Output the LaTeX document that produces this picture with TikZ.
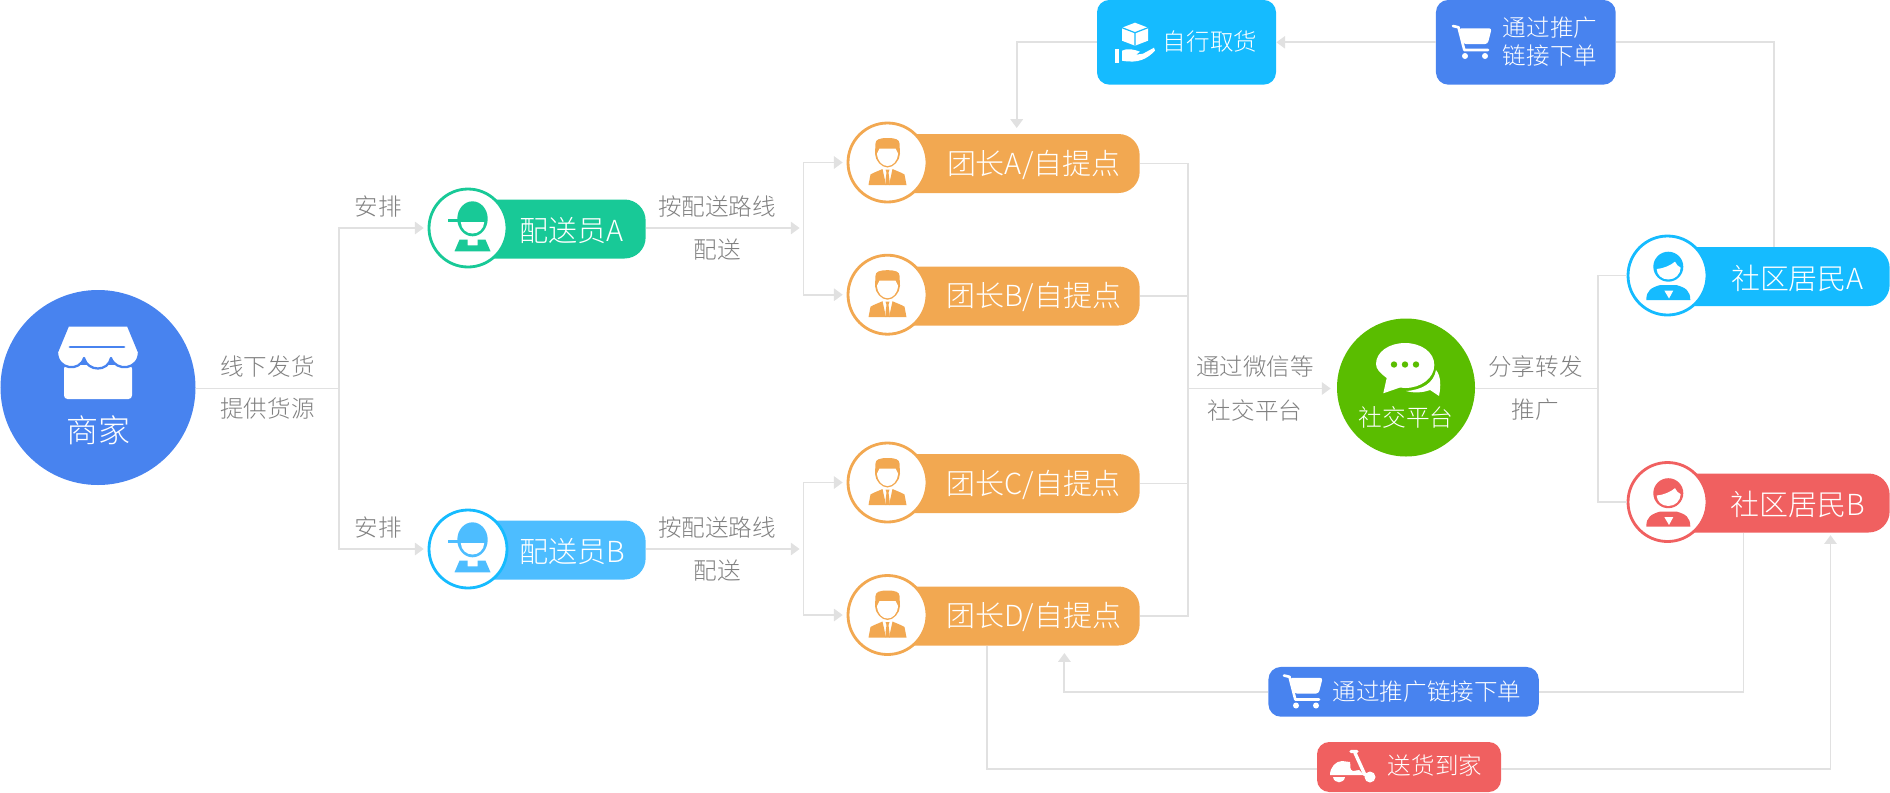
\documentclass[tikz,border=0pt]{standalone}
\usepackage{fontspec}
\setmainfont{Noto Sans CJK SC Light}
\usetikzlibrary{arrows.meta}
\def\pxu{0.02cm}
\definecolor{colshop}{HTML}{4883EF}
\definecolor{colgreen}{HTML}{18C997}
\definecolor{colsky}{HTML}{4DBDFF}
\definecolor{colcyan}{HTML}{15BBFF}
\definecolor{colorange}{HTML}{F2A851}
\definecolor{colred}{HTML}{F06060}
\definecolor{colchat}{HTML}{5ABD00}
\definecolor{colline}{HTML}{E1E1E1}
\definecolor{coltext}{HTML}{808080}
\tikzset{
    link/.style={draw=colline, line width=1.1pt},
    arrowed/.style={link, -{Triangle[length=5pt,width=7pt]}, shorten >=2.2pt},
    note/.style={text=coltext, inner sep=0pt, font=\fontsize{13.4}{13.4}\selectfont},
    pilltext/.style={text=white, inner sep=0pt, font=\fontsize{16.5}{16.5}\selectfont},
    boxtext/.style={text=white, inner sep=0pt, align=center, font=\fontsize{13.4}{16}\selectfont},
    pill/.style={fill=#1, inner sep=0pt, rounded corners=12pt, minimum height=59*\pxu, anchor=east},
    box/.style={fill=#1, inner sep=0pt, rounded corners=7pt},
    head/.style={circle, fill=white, draw=#1, line width=1.6pt, inner sep=0pt, minimum size=79*\pxu},
    % worker with a cap
    pics/worker/.style={code={
        \fill[#1] (0,-9.2) ellipse (15.2 and 17.5);
        \fill[#1] (-24.5,-9.3) rectangle (-10,-6);
        \fill[white] (-11.7,-6) .. controls (-11.5,1) and (-6,5.5) .. (0,5.5) .. controls (6,5.5) and (11.5,1) .. (11.7,-6) -- cycle;
        \fill[#1] (-13,11.7) -- (-5,11.7) -- (-5,17.3) -- (5,17.3) -- (5,11.7) -- (13,11.7) -- (18,23.3) -- (-18,23.3) -- cycle;
    }},
    % leader in a suit
    pics/manager/.style={code={
        \fill[#1] (-12,-19) .. controls (-12,-23) and (-8,-24.5) .. (0,-24.5) .. controls (8,-24.5) and (12,-23) .. (12,-19) -- (12.5,-9) .. controls (12.5,-2) and (6,5) .. (0,5) .. controls (-6,5) and (-12.5,-2) .. (-12.5,-9) -- cycle;
        \fill[white] (-10.5,-9) -- (-8,-14) -- (8,-14) -- (10.5,-9) .. controls (10,-1) and (5,3.5) .. (0,3.5) .. controls (-5,3.5) and (-10,-1) .. (-10.5,-9) -- cycle;
        \fill[#1] (-19,22.5) -- (-17,12) .. controls (-14,10) and (-8,8) .. (-5,6.5) -- (-1.5,22.5) -- cycle;
        \fill[#1] (19,22.5) -- (17,12) .. controls (14,10) and (8,8) .. (5,6.5) -- (1.5,22.5) -- cycle;
        \fill[#1] (-2,7) -- (2,7) -- (1,10) -- (2,18) -- (2,22.5) -- (-2,22.5) -- (-2,18) -- (-1,10) -- cycle;
    }},
    % resident
    pics/resident/.style={code={
        \fill[#1] (0,-8.8) ellipse (15 and 15);
        \fill[white] (-11.6,-6.5) .. controls (-5,-7) and (2,-10) .. (6.7,-13.8) .. controls (8,-11) and (10,-9) .. (12.4,-7.8) .. controls (12,-1) and (7,4) .. (0,4) .. controls (-7,4) and (-11.5,-1) .. (-11.6,-6.5) -- cycle;
        \fill[#1] (-22,24.5) .. controls (-22,15) and (-17,12) .. (-8,9.5) -- (8,9.5) .. controls (17,12) and (22,15) .. (22,24.5) -- cycle;
        \fill[white] (-4,15) -- (5,15) -- (0.7,23) -- cycle;
    }},
    % shopping cart
    pics/cart/.style={code={
        \draw[white, line width=1.5pt, line cap=round, line join=round] (-19,-16) -- (-13.5,-14.7) -- (-7.7,8) -- (16,8);
        \fill[white, rounded corners=1.5pt] (-13,-13.7) -- (19.7,-13.7) -- (15.7,2) -- (-8.7,2) -- cycle;
        \fill[white] (-7,14) circle (3) (13,14) circle (3);
    }},
    % hand holding a parcel
    pics/parcel/.style={code={
        \fill[white] (0,-20) -- (13,-15) -- (13,-2) -- (0,3) -- (-13,-2) -- (-13,-15) -- cycle;
        \draw[colcyan, line width=.7pt] (-13,-15) -- (0,-10) -- (13,-15) (0,-10) -- (0,3);
        \fill[white] (-20,6) rectangle (-16,20);
        \fill[white] (-13,8) .. controls (-8,5) and (0,7) .. (5,9) -- (1,12) -- (8,11) -- (19,5) -- (20,8) .. controls (12,16) and (4,21) .. (-13,18) -- cycle;
    }},
    % scooter
    pics/scooter/.style={code={
        \fill[white] (-22,8) .. controls (-22,0) and (-16,-6) .. (-10,-6) -- (-2,-5) .. controls (-1,-1) and (-3,3) .. (1,4) -- (7,3) -- (12,8) -- cycle;
        \fill[white] (-19,10) .. controls (-18,17) and (-8,17) .. (-7,10) -- cycle;
        \draw[white, line width=1.9pt, line cap=round, line join=round] (-1,-15.5) -- (5,-15.5) (3,-14) -- (13,8);
        \fill[white] (18,10) circle (5.5);
    }},
}

\begin{document}
\begin{tikzpicture}[x=0.02cm, y=-0.02cm]
    \useasboundingbox (0,0) rectangle (1890,792);

    % merchant
    \node[circle, fill=colshop, inner sep=0pt, minimum size=195*\pxu] (shop) at (98,387.5) {};
    \fill[white, rounded corners=2pt] (64,365) rectangle (132,399);
    \draw[colshop, fill=white, line width=1.3pt, line join=round] (68,325.5) -- (128,325.5) -- (139,352) .. controls (139,370) and (116,372) .. (111,358) .. controls (108,372) and (88,372) .. (84,358) .. controls (80,372) and (57,370) .. (57,352) -- cycle;
    \draw[colshop, line width=1.6pt, line cap=round] (70,347) -- (124,347);
    \node[text=white, inner sep=0pt, font=\fontsize{18.2}{18.2}\selectfont] (shopT) at (98,430) {商家};
    \node[note] (noteSa) at (267.5,367) {线下发货};
    \node[note] (noteSb) at (267.5,409) {提供货源};

    % riders
    \foreach \name/\ypos/\colr/\colb in {A/228/colgreen/colgreen, B/549/colcyan/colsky} {
        \node[pill=\colb, minimum width=178*\pxu] (rider\name) at (646,\ypos+1) {};
        \node[head=\colr, minimum size=78*\pxu] (riderc\name) at (468,\ypos) {};
        \pic at (472.5,\ypos) {worker=\colb};
        \node[pilltext] (riderT\name) at (572,\ypos+3) {配送员\name};
        \node[note] at (378,\ypos-21) {安排};
        \node[note] at (717,\ypos-21) {按配送路线};
        \node[note] at (717,\ypos+22) {配送};
    }

    % leaders
    \foreach \name/\ypos/\yhead in {A/163.5/162.5, B/296/294.7, C/483.5/482.5, D/616/615} {
        \node[pill=colorange, minimum width=250*\pxu] (lead\name) at (1140,\ypos) {};
        \node[head=colorange] (leadc\name) at (887.5,\yhead) {};
        \pic at (887.5,\yhead) {manager=colorange};
        \node[pilltext] (leadT\name) at (1033.7,\ypos+1) {团长\name/自提点};
    }

    % social platform
    \node[circle, fill=colchat, inner sep=0pt, minimum size=138*\pxu] (social) at (1406,387.5) {};
    \fill[white] (1436,370) .. controls (1441,376) and (1441,386) .. (1439,396) -- (1430,390) .. controls (1422,393) and (1413,393) .. (1406,391) .. controls (1422,390) and (1434,383) .. (1436,370) -- cycle;
    \fill[white] (1383.3,393.3) -- (1386.7,378) .. controls (1380,373) and (1376,369) .. (1376,364) .. controls (1376,352) and (1389,343) .. (1405,343) .. controls (1421,343) and (1434.3,352) .. (1434.3,365) .. controls (1434.3,378) and (1421,388) .. (1405,388) .. controls (1403,388) and (1402,388) .. (1400,387.5) -- cycle;
    \fill[colchat] (1394,364.5) circle (3.2) (1405,364.5) circle (3.2) (1416,364.5) circle (3.2);
    \node[text=white, inner sep=0pt, font=\fontsize{13.5}{13.5}\selectfont] (socialT) at (1406,417) {社交平台};
    \node[note] (noteCa) at (1255,367) {通过微信等};
    \node[note] (noteCb) at (1255,410) {社交平台};
    \node[note] (noteRa) at (1535.5,367) {分享转发};
    \node[note] (noteRb) at (1535.5,410) {推广};

    % residents
    \foreach \name/\ypos/\colr in {A/275.5/colcyan, B/502/colred} {
        \node[pill=\colr, minimum width=222*\pxu] (res\name) at (1890,\ypos+1) {};
        \node[head=\colr] (resc\name) at (1667.5,\ypos) {};
        \pic at (1668.3,\ypos) {resident=\colr};
        \node[pilltext] (resT\name) at (1797.5,\ypos+2.5) {社区居民\name};
    }

    % boxes around the paths
    \node[box=colcyan, minimum width=179*\pxu, minimum height=84.7*\pxu] (pick) at (1186.5,42.3) {};
    \pic at (1135,42.7) {parcel};
    \node[boxtext] (pickT) at (1210,41.7) {自行取货};
    \node[box=colshop, minimum width=179.7*\pxu, minimum height=84.7*\pxu] (order) at (1525.8,42.3) {};
    \pic at (1472,42) {cart};
    \node[boxtext] (orderT) at (1550,41.5) {通过推广\\链接下单};
    \node[box=colshop, minimum width=270.3*\pxu, minimum height=49.7*\pxu] (orderb) at (1403.6,691.8) {};
    \pic at (1303,691.5) {cart};
    \node[boxtext] (orderbT) at (1427,691.5) {通过推广链接下单};
    \node[box=colred, minimum width=184*\pxu, minimum height=50*\pxu] (home) at (1409,767) {};
    \pic at (1352,767) {scooter};
    \node[boxtext] (homeT) at (1435,765.5) {送货到家};

    % free ends of the connectors
    \coordinate (busS) at (339,388.5);
    \coordinate (forkA) at (803.5,228);
    \coordinate (forkB) at (803.5,549);
    \coordinate (busL) at (1188,388.5);
    \coordinate (busR) at (1597.6,388.5);
    \coordinate (pickIn) at (1016.7,134);
    \coordinate (orderIn) at (1773.7,247);
    \coordinate (orderbIn) at (1064.4,646);
    \coordinate (orderbOut) at (1743.5,532.5);
    \coordinate (homeOut) at (987,646);
    \coordinate (homeIn) at (1830.5,532.5);
    \coordinate (homeLine) at (1409,769);

    % merchant to riders to leaders
    \draw[link] (shop.east |- busS) -- (busS);
    \draw[arrowed] (busS) |- (ridercA.west);
    \draw[arrowed] (busS) |- (ridercB.west);
    \draw[arrowed] (riderA.east |- forkA) -- (forkA);
    \draw[arrowed] (riderB.east |- forkB) -- (forkB);
    \draw[arrowed] (forkA) |- (leadcA.west);
    \draw[arrowed] (forkA) |- (leadcB.west);
    \draw[arrowed] (forkB) |- (leadcC.west);
    \draw[arrowed] (forkB) |- (leadcD.west);

    % leaders to the platform to residents
    \foreach \name in {A,B,C,D} {
        \draw[link] (lead\name.east) -| (busL);
    }
    \draw[arrowed, shorten >=3.4pt] (busL) -- (social.west |- busL);
    \draw[link] (social.east |- busR) -- (busR);
    \draw[link] (busR) |- (rescA.west);
    \draw[link] (busR) |- (rescB.west);

    % orders and pick-up
    \draw[link] (orderIn) |- (order.east);
    \draw[arrowed, shorten >=0pt] (order.west) -- (pick.east);
    \draw[arrowed, shorten >=3.4pt] (pick.west) -| (pickIn);
    \draw[link] (orderbOut) |- (orderb.east);
    \draw[arrowed, shorten >=4pt] (orderb.west) -| (orderbIn);
    \draw[link] (homeOut) |- (home.west |- homeLine);
    \draw[arrowed, shorten >=1.5pt] (home.east |- homeLine) -| (homeIn);
\end{tikzpicture}
\end{document}
